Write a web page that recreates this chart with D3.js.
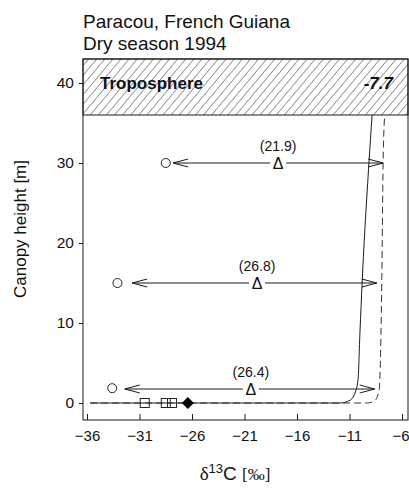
<!DOCTYPE html>
<html>
<head>
<meta charset="utf-8">
<script src="https://cdn.jsdelivr.net/npm/d3@7"></script>
<style>
  html, body { margin: 0; padding: 0; background: #fff; }
  svg { display: block; }
  text { font-family: "Liberation Sans", Arial, sans-serif; fill: #111; }
</style>
</head>
<body>
<script>
// Axis ticks
const xTicks = [-36, -31, -26, -21, -16, -11, -6];
const yTicks = [0, 10, 20, 30, 40];

// Troposphere band
const tropoBase = 36;
const tropoTop = 43;
const tropoValue = "-7.7";

// Canopy air profile (solid) and source-corrected profile (dashed)
const solidHeight = [0, 0, 0.35, 1.25, 2.9, 9, 15, 30, 36];
const solidValue  = [-35.7, -11.9, -10.95, -10.48, -10.19, -10.0, -9.8, -9.15, -8.85];
const dashHeight  = [0, 0, 0.3, 1.0, 2.0, 9, 15, 30, 36];
const dashValue   = [-35.7, -9.3, -8.6, -8.3, -8.15, -8.0, -7.93, -7.8, -7.65];

// Leaf samples (open circles) at three heights
const leafHeight = [30, 15, 1.85];
const leafValue  = [-28.5, -33.1, -33.6];

// Soil / litter samples at ground level
const soilValue    = [-30.5, -28.5, -27.9];
const diamondValue = [-26.4];

// Discrimination arrows
const arrowHeight = [30, 15, 1.75];
const arrowFrom   = [-27.8, -31.7, -32.4];
const arrowTo     = [-7.8, -8.4, -8.6];
const deltaAt     = [-17.8, -19.8, -20.4];
const deltaLabel  = ["(21.9)", "(26.8)", "(26.4)"];

const W = 409, H = 492;
const m = { left: 83, top: 59, right: 1, bottom: 72 };

const svg = d3.select("body").append("svg").attr("width", W).attr("height", H);

const x = d3.scaleLinear().domain([-36.381, -5.43]).range([m.left, W - m.right]);
const y = d3.scaleLinear().domain([-2.125, 43]).range([H - m.bottom, m.top]);

const ink = "#1a1a1a";

// Title
svg.append("text").attr("x", 83).attr("y", 28).attr("font-size", 19).text("Paracou, French Guiana");
svg.append("text").attr("x", 83).attr("y", 50).attr("font-size", 19).text("Dry season 1994");

// Hatch pattern
const defs = svg.append("defs");
const pat = defs.append("pattern")
  .attr("id", "hatch").attr("patternUnits", "userSpaceOnUse")
  .attr("width", 6.2).attr("height", 6.2)
  .attr("patternTransform", "rotate(40)");
pat.append("line").attr("x1", 0).attr("y1", 0).attr("x2", 0).attr("y2", 6.2)
  .attr("stroke", "#222").attr("stroke-width", 0.9);

// Troposphere box
svg.append("rect")
  .attr("x", x.range()[0]).attr("y", y(tropoTop))
  .attr("width", x.range()[1] - x.range()[0]).attr("height", y(tropoBase) - y(tropoTop))
  .attr("fill", "url(#hatch)").attr("stroke", ink).attr("stroke-width", 1);
svg.append("text").attr("x", 100).attr("y", y(39.3)).attr("font-size", 17)
  .attr("font-weight", "bold").text("Troposphere");
svg.append("text").attr("x", 393).attr("y", y(39.3)).attr("font-size", 17)
  .attr("font-weight", "bold").attr("font-style", "italic")
  .attr("text-anchor", "end").text(tropoValue);

// Frame
svg.append("rect")
  .attr("x", x.range()[0]).attr("y", y.range()[1])
  .attr("width", x.range()[1] - x.range()[0]).attr("height", y.range()[0] - y.range()[1])
  .attr("fill", "none").attr("stroke", ink).attr("stroke-width", 1);

// X axis (inward ticks)
const xAxis = svg.append("g").attr("transform", `translate(0,${y.range()[0]})`)
  .call(d3.axisBottom(x).tickValues(xTicks).tickSizeInner(-6).tickSizeOuter(0).tickPadding(10));
xAxis.select(".domain").remove();
xAxis.selectAll("line").attr("stroke", ink);
xAxis.selectAll("text").attr("font-size", 15).attr("font-family", "Liberation Sans, Arial, sans-serif").attr("fill", "#111");
// keep the last label inside the page edge
xAxis.selectAll(".tick").filter(d => d === -6).select("text")
  .attr("text-anchor", "end").attr("x", 7);

// Y axis (outward ticks)
const yAxis = svg.append("g").attr("transform", `translate(${x.range()[0]},0)`)
  .call(d3.axisLeft(y).tickValues(yTicks).tickSizeInner(4).tickSizeOuter(0).tickPadding(5));
yAxis.select(".domain").remove();
yAxis.selectAll("line").attr("stroke", ink);
yAxis.selectAll("text").attr("font-size", 15.5).attr("font-family", "Liberation Sans, Arial, sans-serif").attr("fill", "#111");

// Axis titles
svg.append("text")
  .attr("transform", "translate(26,229) rotate(-90)")
  .attr("text-anchor", "middle").attr("font-size", 17).text("Canopy height [m]");

const xl = svg.append("text").attr("x", 235).attr("y", 480).attr("text-anchor", "middle").attr("font-size", 19);
xl.append("tspan").attr("font-family", "Liberation Serif, serif").text("δ");
xl.append("tspan").attr("font-size", 13).attr("dy", -7).text("13");
xl.append("tspan").attr("dy", 7).text("C ");
xl.append("tspan").attr("font-family", "Liberation Serif, serif").attr("font-size", 17).text("[‰]");

// Profiles
const line = d3.line().x(d => x(d[1])).y(d => y(d[0])).curve(d3.curveMonotoneX);
svg.append("path")
  .attr("d", line(d3.zip(solidHeight, solidValue)))
  .attr("fill", "none").attr("stroke", ink).attr("stroke-width", 1);
svg.append("path")
  .attr("d", line(d3.zip(dashHeight, dashValue)))
  .attr("fill", "none").attr("stroke", "#333").attr("stroke-width", 1)
  .attr("stroke-dasharray", "7,4");

// Discrimination arrows
const gap = 8;
arrowHeight.forEach((h, i) => {
  const yy = y(h), x0 = x(arrowFrom[i]), x1 = x(arrowTo[i]), xc = x(deltaAt[i]);
  const g = svg.append("g").attr("stroke", ink).attr("stroke-width", 1).attr("fill", "none");
  g.append("line").attr("x1", x0).attr("x2", xc - gap).attr("y1", yy).attr("y2", yy);
  g.append("line").attr("x1", xc + gap).attr("x2", x1).attr("y1", yy).attr("y2", yy);
  g.append("path").attr("d", `M${x0 + 15},${yy - 4}L${x0},${yy}L${x0 + 15},${yy + 4}`);
  g.append("path").attr("d", `M${x1 - 15},${yy - 4}L${x1},${yy}L${x1 - 15},${yy + 4}`);
  svg.append("text").attr("x", xc).attr("y", yy + 5.5).attr("text-anchor", "middle")
    .attr("font-family", "Liberation Serif, serif").attr("font-size", 16).text("Δ");
  svg.append("text").attr("x", xc).attr("y", yy - 12).attr("text-anchor", "middle")
    .attr("font-size", 14).text(deltaLabel[i]);
});

// Leaf samples
svg.selectAll("circle.leaf").data(d3.zip(leafHeight, leafValue)).join("circle")
  .attr("class", "leaf")
  .attr("cx", d => x(d[1])).attr("cy", d => y(d[0])).attr("r", 4.5)
  .attr("fill", "#fff").attr("stroke", "#222").attr("stroke-width", 1);

// Soil samples
svg.selectAll("rect.soil").data(soilValue).join("rect")
  .attr("class", "soil")
  .attr("x", d => x(d) - 4.5).attr("y", y(0) - 4.5).attr("width", 9).attr("height", 9)
  .attr("fill", "none").attr("stroke", "#222").attr("stroke-width", 1);

svg.selectAll("path.dia").data(diamondValue).join("path")
  .attr("class", "dia")
  .attr("transform", d => `translate(${x(d)},${y(0)})`)
  .attr("d", "M0,-6L6,0L0,6L-6,0Z").attr("fill", "#000");
</script>
</body>
</html>
